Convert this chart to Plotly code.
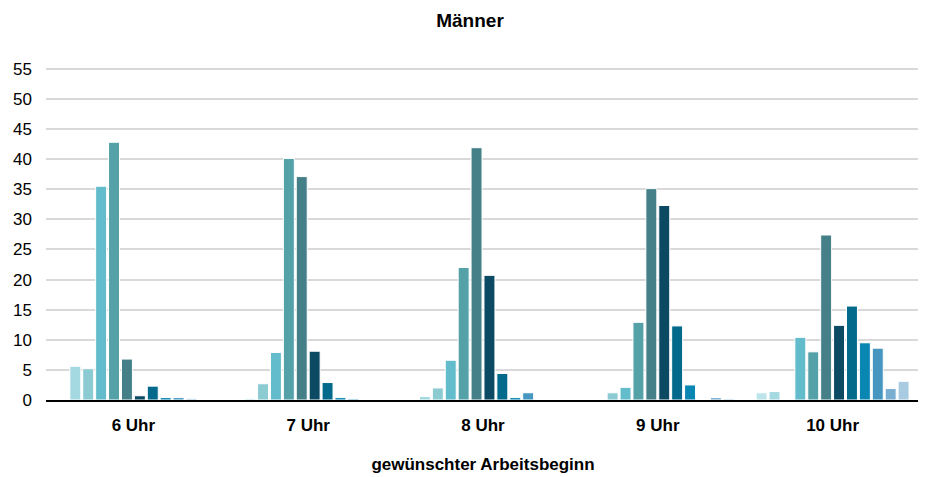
import plotly.graph_objects as go

categories = ["6 Uhr", "7 Uhr", "8 Uhr", "9 Uhr", "10 Uhr"]

series_names = [f"Serie {i+1}" for i in range(12)]

# values per series (index) for each category
s01 = [0.0, 0.0, 0.0, 0.1, 1.2]
s02 = [5.6, 0.2, 0.6, 0.0, 1.4]
s03 = [5.2, 2.7, 2.0, 1.2, 0.0]
s04 = [35.5, 7.9, 6.6, 2.1, 10.4]
s05 = [42.8, 40.1, 22.0, 12.9, 8.0]
s06 = [6.8, 37.1, 41.9, 35.1, 27.4]
s07 = [0.7, 8.1, 20.7, 32.3, 12.4]
s08 = [2.3, 2.9, 4.4, 12.3, 15.6]
s09 = [0.4, 0.4, 0.4, 2.5, 9.5]
s10 = [0.4, 0.2, 1.2, 0.0, 8.6]
s11 = [0.2, 0.0, 0.0, 0.4, 1.9]
s12 = [0.0, 0.0, 0.0, 0.2, 3.1]

series_values = [s01, s02, s03, s04, s05, s06, s07, s08, s09, s10, s11, s12]

colors = ["#bde4ea", "#a5d9e2", "#8ccbd2", "#62bccb", "#55a1a8", "#458088",
          "#0c4a63", "#036a8b", "#0a86b3", "#4597c0", "#7aaed0", "#a9cbe2"]

y_ticks = list(range(0, 60, 5))

FONT = "Liberation Sans Narrow, Arial Narrow, Liberation Sans, Arial, sans-serif"

fig = go.Figure()
for name, vals, col in zip(series_names, series_values, colors):
    fig.add_trace(go.Bar(
        x=categories, y=vals, name=name,
        marker=dict(color=col, line=dict(color="white", width=1)),
        showlegend=False,
    ))

# page body has an 8px margin; margins compensate for it
fig.update_layout(
    width=926, height=477,
    margin=dict(l=38, r=14, t=59, b=85),
    plot_bgcolor="white", paper_bgcolor="white",
    barmode="group", bargap=0.114, bargroupgap=0.15,
    font=dict(family=FONT, color="black", size=15),
    title=dict(text="<b>Männer</b>", x=(470 - 8) / 926, xanchor="center",
               yref="container", y=1 - 12 / 477, yanchor="middle",
               font=dict(family=FONT, size=19, color="black")),
)
fig.update_xaxes(
    automargin=False,
    showline=True, linecolor="black", linewidth=2,
    tickfont=dict(family=FONT, size=17, color="black"),
    tickvals=categories, ticktext=[f"<b>{c}</b>" for c in categories],
    ticks="", ticklabelstandoff=9,
    title=dict(text="<b>gewünschter Arbeitsbeginn</b>", standoff=24,
               font=dict(family=FONT, size=17, color="black")),
)
fig.update_yaxes(
    automargin=False,
    range=[0, 55.3], tickvals=y_ticks,
    showgrid=True, gridcolor="#d9d9d9", gridwidth=2,
    zeroline=False, showline=False,
    tickfont=dict(family=FONT, size=17, color="black"),
    ticks="", ticklabelstandoff=13,
)

fig.write_html("out.html")
